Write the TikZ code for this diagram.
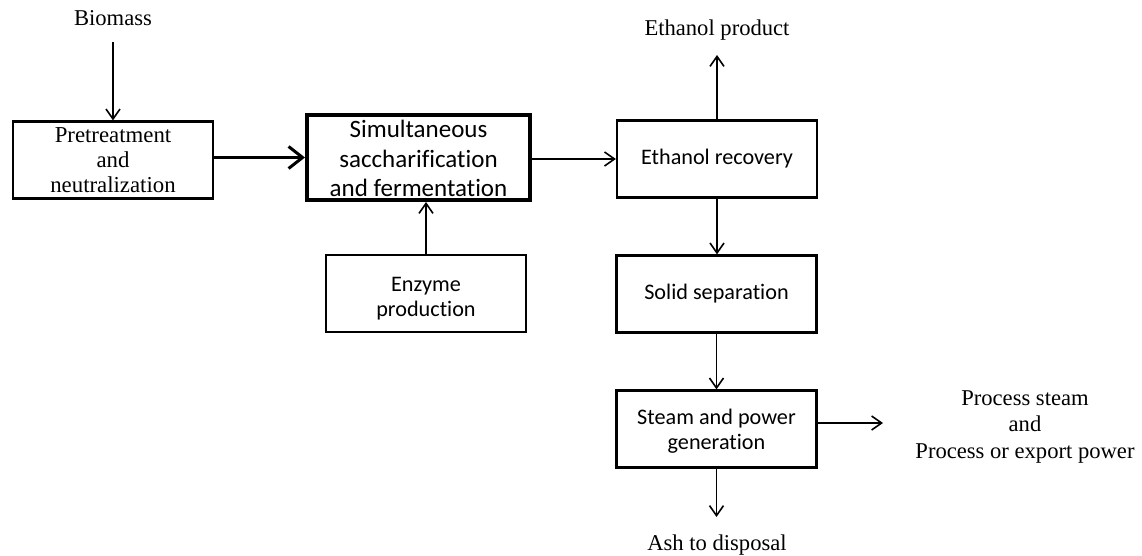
\documentclass[tikz,border=0pt]{standalone}
\usepackage{fontspec}
\setmainfont{Liberation Serif}
\newfontfamily\calibri[Ligatures=NoCommon]{Carlito}
\usetikzlibrary{arrows.meta}
\begin{document}
\begin{tikzpicture}[x=0.5pt,y=-0.5pt,
  box/.style={draw, line width=1.1pt, minimum width=100pt, minimum height=38.5pt,
    inner sep=0pt, align=center, font=\calibri\fontsize{11.1}{12.5}\selectfont},
  boxtext/.style={inner sep=0pt, align=center, font=\calibri\fontsize{11.1}{12.5}\selectfont},
  serifbox/.style={box, font=\fontsize{11.4}{12.6}\selectfont},
  bigbox/.style={box, line width=2pt, minimum width=111.5pt, minimum height=42.5pt},
  bigtext/.style={inner sep=0pt, align=center, font=\calibri\fontsize{12.5}{14.6}\selectfont},
  lbl/.style={inner sep=0pt, align=center, font=\fontsize{11.3}{13.2}\selectfont},
  arr/.style={-{Straight Barb[length=5pt,width=7pt]}, line width=0.8pt},
  thickarr/.style={-{Straight Barb[length=7pt,width=11pt]}, line width=1.5pt}]
\useasboundingbox (0,0) rectangle (1142,556);

\node[serifbox] (pre) at (113,160) {Pretreatment\\and\\neutralization};
\node[bigbox] (ssf) at (418.5,157.5) {};
\node[bigtext] (ssfT) at (418.5,158.5) {Simultaneous\\saccharification\\and fermentation};
\node[box] (enz) at (426,293.5) {};
\node[boxtext] (enzT) at (426,298.5) {Enzyme\\production};
\node[box] (rec) at (717,159) {Ethanol recovery};
\node[box] (sol) at (716.5,294) {Solid separation};
\node[box] (stm) at (716.5,429) {};
\node[boxtext] (stmT) at (716.5,431) {Steam and power\\generation};

\node[lbl] (bio) at (113,18) {Biomass};
\node[lbl] (eth) at (717,30) {Ethanol product};
\node[lbl] (ash) at (717,545) {Ash to disposal};
\node[lbl] (proc) at (1025,427) {Process steam\\and\\Process or export power};

\coordinate (bioS) at (113,42);
\coordinate (ethS) at (717,55);
\coordinate (outR) at (883,423);
\coordinate (ashN) at (716.5,517);

\draw[arr] (bioS) -- (pre.north);
\draw[thickarr] (pre.east |- ssf.west) -- (ssf.west);
\draw[arr] (ssf.east |- rec.west) -- (rec.west);
\draw[arr] (enz.north) -- (enz.north |- ssf.south);
\draw[arr] (rec.north) -- (rec.north |- ethS);
\draw[arr] (rec.south) -- (rec.south |- sol.north);
\draw[arr] (sol.south) -- (stm.north);
\draw[arr] (stm.east |- outR) -- (outR);
\draw[arr] (stm.south) -- (ashN);
\end{tikzpicture}
\end{document}
